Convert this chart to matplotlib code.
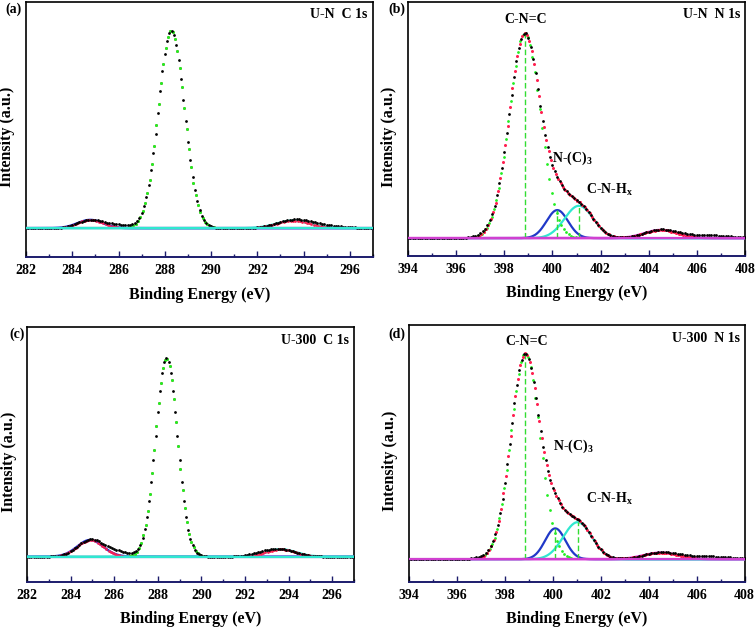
import numpy as np
import matplotlib.pyplot as plt
from matplotlib.ticker import MultipleLocator

plt.rcParams['font.family'] = ['Liberation Serif', 'DejaVu Serif']
plt.rcParams['font.weight'] = 'bold'
plt.rcParams['mathtext.fontset'] = 'custom'
plt.rcParams['mathtext.rm'] = 'Liberation Serif:bold'
plt.rcParams['mathtext.it'] = 'Liberation Serif:bold'
plt.rcParams['mathtext.bf'] = 'Liberation Serif:bold'

# fitted peaks: centre (eV), height (norm.), FWHM (eV)
un_c1s_centers = [284.78, 288.28, 293.55]
un_c1s_heights = [0.042, 1.0, 0.038]
un_c1s_fwhm = [1.30, 1.32, 1.70]
# intensity in the measured spectrum not covered by the fit
un_c1s_extra_centers = [286.0, 294.7]
un_c1s_extra_heights = [0.016, 0.014]
un_c1s_extra_fwhm = [1.3, 2.2]

u300_c1s_centers = [284.90, 288.40, 293.65]
u300_c1s_heights = [0.084, 1.0, 0.037]
u300_c1s_fwhm = [1.40, 1.18, 1.60]
u300_c1s_extra_centers = [286.1, 292.7]
u300_c1s_extra_heights = [0.024, 0.012]
u300_c1s_extra_fwhm = [1.4, 1.2]

un_n1s_centers = [398.85, 400.20, 401.10, 404.50]
un_n1s_heights = [1.0, 0.137, 0.158, 0.040]
un_n1s_fwhm = [1.52, 1.05, 1.40, 1.60]
un_n1s_extra_centers = [397.2, 406.4]
un_n1s_extra_heights = [0.008, 0.014]
un_n1s_extra_fwhm = [1.2, 2.4]

u300_n1s_centers = [398.85, 400.10, 401.03, 404.50]
u300_n1s_heights = [1.0, 0.150, 0.180, 0.032]
u300_n1s_fwhm = [1.42, 1.00, 1.40, 1.70]
u300_n1s_extra_centers = [397.2, 406.4]
u300_n1s_extra_heights = [0.008, 0.014]
u300_n1s_extra_fwhm = [1.2, 2.4]

n1s_names = ['C-N=C', 'N-(C)$_3$', 'C-N-H$_\\mathrm{x}$']


def peak(x, c, h, w):
    s = w / 2.3548
    return h * np.exp(-0.5 * ((x - c) / s) ** 2)


def visible(x, y, lim=0.004):
    keep = y > lim
    return x[keep], y[keep]


def draw_panel(ax, x0, x1, centers, heights, fwhm, ex_c, ex_h, ex_w, kind):
    xd = np.arange(x0, x1 + 0.001, 0.1)
    xf = xd + 0.04
    fit = sum(peak(xf, c, h, w) for c, h, w in zip(centers, heights, fwhm))
    meas = sum(peak(xd, c, h, w) for c, h, w in zip(centers, heights, fwhm))
    meas = meas + sum(peak(xd, c, h, w) for c, h, w in zip(ex_c, ex_h, ex_w))
    xl = np.linspace(x0, x1, 600)

    if kind == 'C':
        ax.plot(xl, peak(xl, centers[0], heights[0], fwhm[0]), color='#2030d0', lw=1.8, zorder=3)
        ax.plot(xl, peak(xl, centers[2], heights[2], fwhm[2]), color='#30e8d0', lw=1.8, zorder=3)
        ax.plot(*visible(xf, fit), 'o', color='#ff2050', ms=2.0, mew=0, zorder=4)
        ax.plot(*visible(xf, peak(xf, centers[1], heights[1], fwhm[1])), 'o',
                color='#22ee22', ms=2.2, mew=0, zorder=5)
        ax.plot(xl, np.zeros_like(xl), color='#e040e0', lw=1.6, zorder=6.2)
        ax.plot(xl, np.zeros_like(xl), color='#30e8d0', lw=1.6, zorder=6.3)
    else:
        ax.plot(xl, peak(xl, centers[1], heights[1], fwhm[1]), color='#2038c8', lw=1.6, zorder=3)
        ax.plot(xl, peak(xl, centers[2], heights[2], fwhm[2]), color='#30e8d0', lw=1.6, zorder=3)
        ax.plot(xl, peak(xl, centers[3], heights[3], fwhm[3]), color='#e040e0', lw=1.8, zorder=3)
        xg = xd + 0.07
        ax.plot(*visible(xg, peak(xg, centers[0], heights[0], fwhm[0])), 'o',
                color='#22ee22', ms=2.0, mew=0, zorder=4)
        ax.plot(*visible(xf, fit), 'o', color='#ff2050', ms=2.2, mew=0, zorder=5)
        ax.plot(xl, np.zeros_like(xl), color='#d040d0', lw=1.6, zorder=6.2)
        for c, h in zip(centers[:3], heights[:3]):
            ax.plot([c, c], [0, h], color='#33dd33', lw=1.0, ls=(0, (4, 2)), zorder=4)
    ax.plot(xd, meas, 'o', color='black', ms=2.0, mew=0, zorder=6)


fig = plt.figure(figsize=(7.56, 6.3), dpi=100)
ax_a = fig.add_axes([0.0344, 0.592, 0.459, 0.405])
ax_b = fig.add_axes([0.5397, 0.594, 0.4458, 0.403])
ax_c = fig.add_axes([0.0357, 0.0767, 0.4325, 0.404])
ax_d = fig.add_axes([0.541, 0.0767, 0.444, 0.407])

draw_panel(ax_a, 282, 297, un_c1s_centers, un_c1s_heights, un_c1s_fwhm,
           un_c1s_extra_centers, un_c1s_extra_heights, un_c1s_extra_fwhm, 'C')
draw_panel(ax_c, 282, 297, u300_c1s_centers, u300_c1s_heights, u300_c1s_fwhm,
           u300_c1s_extra_centers, u300_c1s_extra_heights, u300_c1s_extra_fwhm, 'C')
draw_panel(ax_b, 394, 408, un_n1s_centers, un_n1s_heights, un_n1s_fwhm,
           un_n1s_extra_centers, un_n1s_extra_heights, un_n1s_extra_fwhm, 'N')
draw_panel(ax_d, 394, 408, u300_n1s_centers, u300_n1s_heights, u300_n1s_fwhm,
           u300_n1s_extra_centers, u300_n1s_extra_heights, u300_n1s_extra_fwhm, 'N')

ax_a.set_ylim(-0.146, 1.146)
ax_c.set_ylim(-0.126, 1.156)
ax_b.set_ylim(-0.086, 1.153)
ax_d.set_ylim(-0.109, 1.137)

titles = ['U-N  C 1s', 'U-N  N 1s', 'U-300  C 1s', 'U-300  N 1s']
tags = ['(a)', '(b)', '(c)', '(d)']
tag_pos = [(5 / 756, 1 - 3 / 630), (388 / 756, 1 - 3 / 630),
           (9 / 756, 1 - 328 / 630), (388 / 756, 1 - 328 / 630)]
for ax, t, tag, pos in zip([ax_a, ax_b, ax_c, ax_d], titles, tags, tag_pos):
    if ax in (ax_a, ax_c):
        ax.set_xlim(282, 297)
    else:
        ax.set_xlim(394, 408)
    ax.xaxis.set_major_locator(MultipleLocator(2))
    ax.xaxis.set_minor_locator(MultipleLocator(1))
    ax.tick_params(axis='x', which='major', direction='in', length=4, width=1,
                   color='#1c1c6c', labelsize=10, pad=5)
    ax.tick_params(axis='x', which='minor', direction='in', length=2.5, width=1,
                   color='#1c1c6c')
    ax.tick_params(axis='y', left=False, labelleft=False)
    for side in ['top', 'left', 'right']:
        ax.spines[side].set_linewidth(1.2)
    ax.spines['bottom'].set_color('#1c1c6c')
    ax.spines['bottom'].set_linewidth(1.4)
    ax.set_xlabel('Binding Energy (eV)', fontsize=11.5, fontweight='bold', labelpad=7)
    ax.set_ylabel('Intensity (a.u.)', fontsize=11.5, fontweight='bold')
    ax.yaxis.set_label_coords(-0.032, 0.47)
    ax.text(0.985, 0.975, t, transform=ax.transAxes, ha='right', va='top',
            fontsize=10, fontweight='bold')
    fig.text(pos[0], pos[1], tag, ha='left', va='top', fontsize=10, fontweight='bold')

for ax, ys in [(ax_b, [1.035, 0.345, 0.195]), (ax_d, [1.025, 0.505, 0.255])]:
    ax.text(398.9, ys[0], n1s_names[0], ha='center', va='bottom', fontsize=10, fontweight='bold')
    ax.text(400.0, ys[1], n1s_names[1], ha='left', va='bottom', fontsize=10, fontweight='bold')
    ax.text(401.4, ys[2], n1s_names[2], ha='left', va='bottom', fontsize=10, fontweight='bold')

fig.savefig('out.png', dpi=100)
